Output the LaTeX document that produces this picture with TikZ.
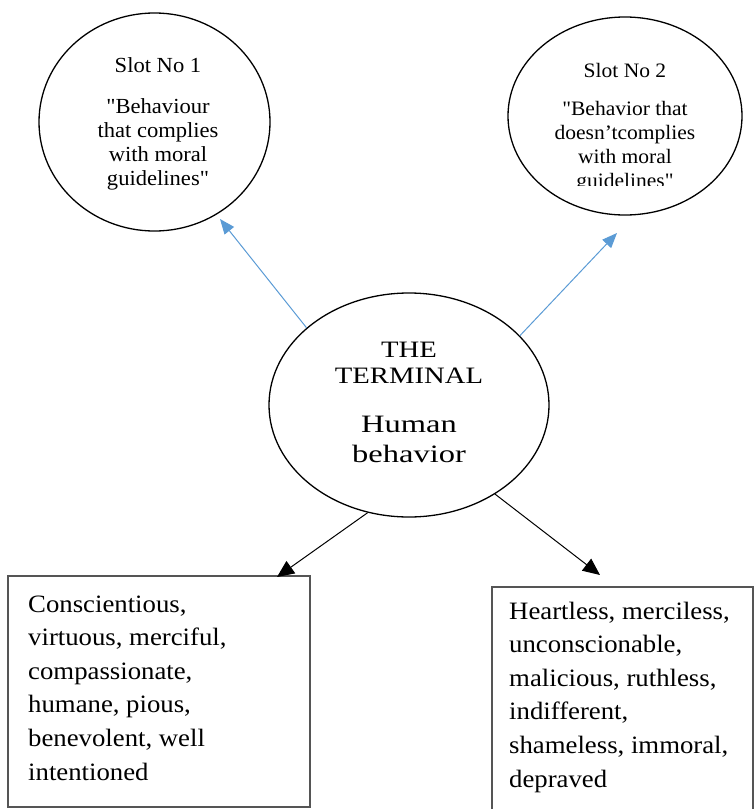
\documentclass[tikz,border=0pt]{standalone}
\usepackage{fontspec}
\setmainfont{Liberation Serif}
\newfontfamily\slotfont[FakeStretch=1.05]{Liberation Serif}
\newfontfamily\termfont[FakeStretch=1.22]{Liberation Serif}
\newfontfamily\humfont[FakeStretch=1.3]{Liberation Serif}
\newfontfamily\boxfont[FakeStretch=1.07]{Liberation Serif}
\usetikzlibrary{arrows.meta,shapes.geometric}
\definecolor{arrowblue}{RGB}{91,155,213}
\definecolor{boxgray}{RGB}{85,85,85}
\begin{document}
\begin{tikzpicture}[x=1pt,y=-1pt,
  oval/.style={draw=black, line width=1.3pt, ellipse, inner sep=0pt},
  listbox/.style={draw=boxgray, line width=1.2pt, rectangle, inner sep=0pt},
  blueconn/.style={draw=arrowblue, line width=1pt, -{Triangle[length=15pt,width=12pt]}},
  blackconn/.style={draw=black, line width=1pt, -{Triangle[length=17pt,width=15pt]}},
  txt/.style={inner sep=0pt, anchor=base}
]
\clip (0,0) rectangle (754,809);
% ellipses
\node[oval, minimum width=231pt, minimum height=218pt] (slot1) at (154.5,122) {};
\node[oval, minimum width=234pt, minimum height=198pt] (slot2) at (625,116) {};
\node[oval, minimum width=280pt, minimum height=224pt] (term) at (409,405) {};
% boxes
\node[listbox, minimum width=302pt, minimum height=231pt] (good) at (159,691.5) {};
\node[listbox, minimum width=261pt, minimum height=230pt] (bad) at (622.5,702) {};
% texts
\node[txt] (slot1text) at (158,72) {\slotfont\fontsize{21.5}{24.3}\selectfont
  \begin{tabular}[t]{@{}c@{}}Slot No 1\\[16.7pt] "Behaviour\\ that complies\\ with moral\\ guidelines"\end{tabular}};
\begin{scope}
\clip (500,0) rectangle (754,185);
\node[txt] (slot2text) at (625,77) {\slotfont\fontsize{20.5}{24.3}\selectfont
  \begin{tabular}[t]{@{}c@{}}Slot No 2\\[13.7pt] "Behavior that\\ doesn’tcomplies\\ with moral\\ guidelines"\end{tabular}};
\end{scope}
\node[txt] (termtext1) at (409,357) {\termfont\fontsize{23.5}{26}\selectfont
  \begin{tabular}[t]{@{}c@{}}THE\\ TERMINAL\end{tabular}};
\node[txt] (termtext2) at (409,432) {\humfont\fontsize{25}{30}\selectfont
  \begin{tabular}[t]{@{}c@{}}Human\\ behavior\end{tabular}};
\node[txt, anchor=base west] (goodtext) at (28,612) {\boxfont\fontsize{25}{33.6}\selectfont
  \begin{tabular}[t]{@{}l@{}}Conscientious,\\ virtuous, merciful,\\ compassionate,\\ humane, pious,\\ benevolent, well\\ intentioned\end{tabular}};
\node[txt, anchor=base west] (badtext) at (509,619) {\boxfont\fontsize{25}{33.6}\selectfont
  \begin{tabular}[t]{@{}l@{}}Heartless, merciless,\\ unconscionable,\\ malicious, ruthless,\\ indifferent,\\ shameless, immoral,\\ depraved\end{tabular}};
% connectors
\coordinate (tip1) at (220,219);
\coordinate (tip2) at (617,233);
\coordinate (tip3) at (277,577);
\coordinate (tip4) at (600,575);
\draw[blueconn] (term.143) -- (tip1);
\draw[blueconn] (term.32) -- (tip2);
\draw[blackconn] (term.249) -- (tip3);
\draw[blackconn] (term.-46) -- (tip4);
\end{tikzpicture}
\end{document}
